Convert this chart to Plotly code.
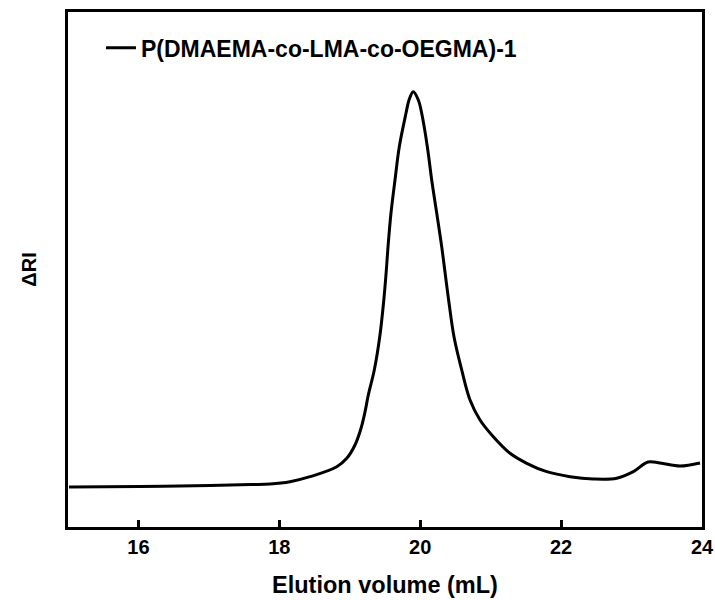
import plotly.graph_objects as go

elution_ml = [15.014, 16.020, 17.016, 17.600, 17.868, 18.152, 18.436, 18.815, 18.957, 19.074,
              19.160, 19.217, 19.263, 19.348, 19.425, 19.479, 19.519, 19.543, 19.585, 19.642,
              19.703, 19.798, 19.841, 19.902, 19.973, 20.021, 20.101, 20.163, 20.234, 20.305,
              20.366, 20.409, 20.480, 20.589, 20.707, 20.849, 21.038, 21.275, 21.512, 21.796,
              22.127, 22.457, 22.790, 23.025, 23.234, 23.404, 23.688, 23.972]
delta_ri = [7.77, 7.86, 8.06, 8.25, 8.35, 8.80, 9.77, 11.71, 13.34, 15.92,
            19.17, 22.39, 25.63, 30.49, 36.89, 43.50, 49.90, 54.43, 60.97, 67.38,
            73.84, 80.33, 82.91, 84.52, 82.91, 80.33, 73.84, 67.38, 60.97, 54.43,
            47.96, 43.50, 36.89, 30.49, 24.66, 20.78, 17.53, 14.31, 12.37, 10.74,
            9.77, 9.32, 9.46, 10.74, 12.62, 12.43, 11.84, 12.43]
series_name = "P(DMAEMA-co-LMA-co-OEGMA)-1"
x_ticks = [16, 18, 20, 22, 24]

fig = go.Figure()
fig.add_trace(go.Scatter(
    x=elution_ml, y=delta_ri, mode="lines", name=series_name,
    line=dict(color="black", width=3, shape="spline", smoothing=1.0),
    showlegend=True,
))

font_family = "Liberation Sans, Arial, sans-serif"
fig.update_layout(
    width=715, height=600,
    margin=dict(l=68, r=13, t=12, b=73),
    paper_bgcolor="white", plot_bgcolor="white",
    font=dict(family=font_family, color="black", size=20),
    showlegend=True,
    legend=dict(x=0.052, y=0.972, xanchor="left", yanchor="top",
                bgcolor="rgba(0,0,0,0)", borderwidth=0,
                font=dict(size=23, family=font_family, weight="bold"),
                itemwidth=30),
    xaxis=dict(range=[15, 24], tickvals=x_ticks, ticktext=[str(v) for v in x_ticks],
               ticks="inside", ticklen=7, tickwidth=2.5, tickcolor="black",
               showline=True, linewidth=2.5, linecolor="black", mirror=True,
               showgrid=False, zeroline=False, automargin=False,
               tickfont=dict(size=20, weight="bold"),
               title=dict(text="Elution volume (mL)", font=dict(size=23.5, weight="bold"), standoff=20)),
    yaxis=dict(range=[0, 100], showticklabels=False, ticks="",
               showline=True, linewidth=2.5, linecolor="black", mirror=True,
               showgrid=False, zeroline=False, automargin=False,
               title=dict(text="ΔRI", font=dict(size=20, weight="bold"), standoff=24)),
)

fig.write_html("out.html")
